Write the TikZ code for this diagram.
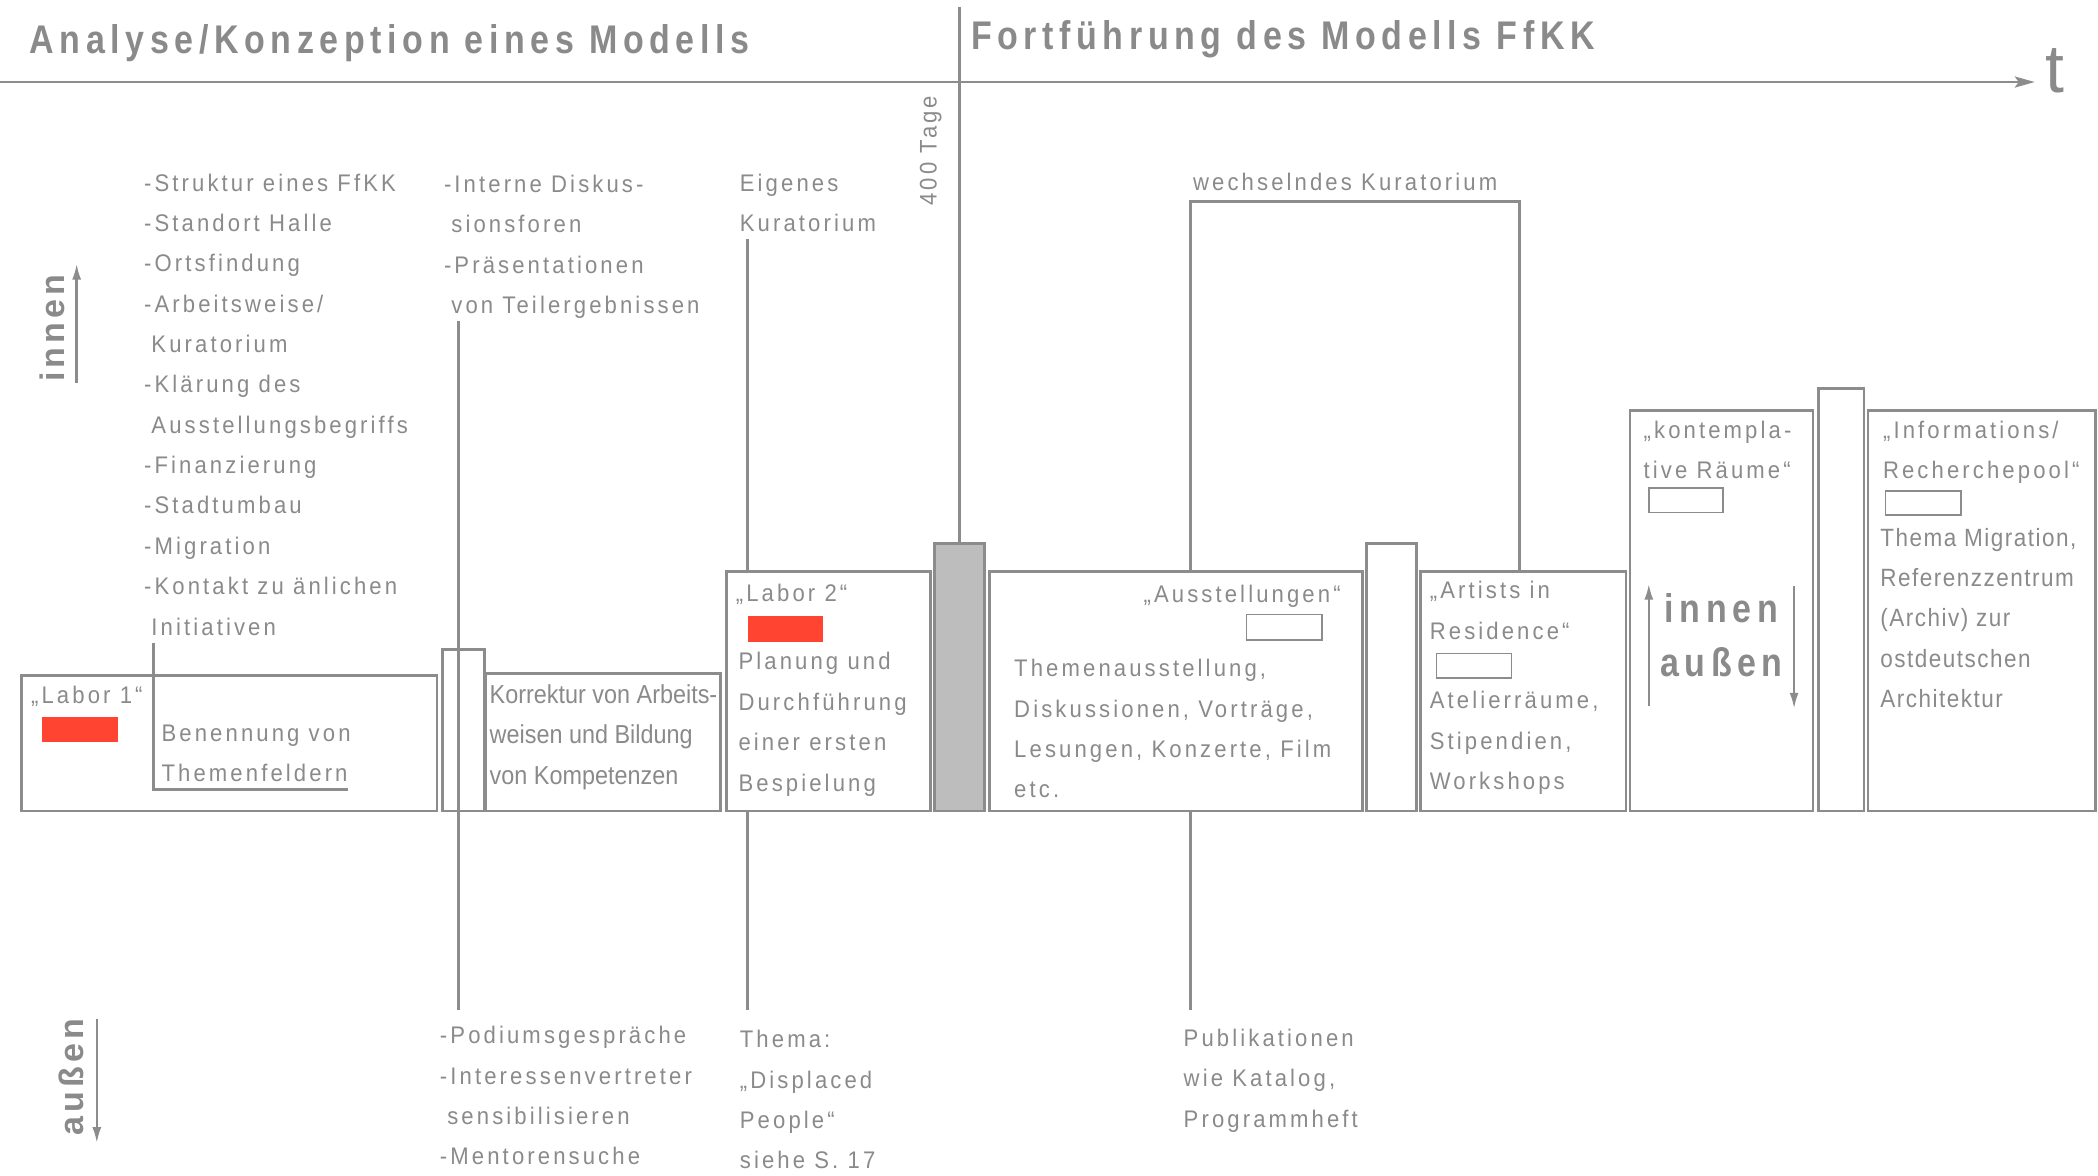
\documentclass[tikz,border=0pt]{standalone}
\usepackage{fontspec}
\setmainfont{Liberation Sans}
\usetikzlibrary{fit,arrows.meta}
\newfontfamily\bodyff[FakeStretch=0.92,LetterSpace=13]{Liberation Sans}
\newfontfamily\plainff[FakeStretch=0.9]{Liberation Sans}
\newfontfamily\midff[FakeStretch=0.9,LetterSpace=6]{Liberation Sans}
\newfontfamily\headff[FakeStretch=0.85,LetterSpace=14]{Liberation Sans}
\newfontfamily\sideff[LetterSpace=12]{Liberation Sans}
\definecolor{tgray}{HTML}{8A8A8A}
\definecolor{lgray}{HTML}{8C8C8C}
\definecolor{redfill}{HTML}{FF4431}
\definecolor{barfill}{HTML}{BDBDBD}
\begin{document}
\begin{tikzpicture}[x=1.3449pt,y=-1.3449pt,
  box/.style={draw=lgray,line width=2.8pt,inner sep=0pt},
  redbox/.style={fill=redfill,draw=none,inner sep=0pt},
  whitebox/.style={draw=lgray,line width=1.4pt,fill=white,inner sep=0pt},
  conn/.style={draw=lgray,line width=2.8pt},
  txt/.style={font=\bodyff\fontsize{24}{40.35}\selectfont,text=tgray,align=left,inner sep=0pt,anchor=north west},
  ptxt/.style={font=\plainff\fontsize{26}{40.35}\selectfont,text=tgray,align=left,inner sep=0pt,anchor=north west},
  mtxt/.style={font=\midff\fontsize{25}{40.35}\selectfont,text=tgray,align=left,inner sep=0pt,anchor=north west},
  lbl/.style={font=\bodyff\fontsize{24}{40.35}\selectfont,text=tgray,inner sep=0pt,anchor=base west},
  head/.style={font=\headff\bfseries\fontsize{40}{44}\selectfont,text=tgray,inner sep=0pt,anchor=base west},
  bigio/.style={font=\headff\bfseries\fontsize{40}{44}\selectfont,text=tgray,inner sep=0pt,anchor=base},
  side/.style={font=\sideff\bfseries\fontsize{34}{40}\selectfont,text=tgray,inner sep=0pt,rotate=90,anchor=center},
  arr/.style={draw=lgray,line width=2.4pt,-{Latex[length=16pt,width=9pt]}}
]
\useasboundingbox (0,0) rectangle (1560,873.7);

% headers and time axis
\node[head] (h1) at (22,40) {Analyse/Konzeption eines Modells};
\node[head] (h2) at (722,37) {Fortführung des Modells FfKK};
\coordinate (axL) at (0,61);
\coordinate (axR) at (1513,61);
\draw[conn,-{Stealth[length=20pt,width=11pt,inset=4pt]}] (axL) -- (axR);
\node[font=\fontsize{68}{68}\selectfont,text=tgray,inner sep=0pt,anchor=base west] (tlab) at (1521,69) {t};
\node[font=\bodyff\fontsize{24}{30}\selectfont,text=tgray,inner sep=0pt,rotate=90,anchor=center] (tage) at (692,112) {400 Tage};

% innen / aussen side labels
\node[side] (sideIn) at (39,244) {innen};
\coordinate (aInB) at (57,285);
\coordinate (aInT) at (57,196);
\draw[arr] (aInB) -- (aInT);
\node[side] (sideOut) at (53,801) {außen};
\coordinate (aOutT) at (72,758);
\coordinate (aOutB) at (72,850);
\draw[arr] (aOutT) -- (aOutB);

% boxes
\node[box,fit={(16,502)(325,603)}] (labor1) {};
\node[box,fit={(329,483)(360,603)}] (small) {};
\node[box,fit={(361,501)(536,603)}] (korr) {};
\node[box,fit={(540,425)(692,603)}] (labor2) {};
\node[box,fill=barfill,fit={(695,404)(732,603)}] (bar) {};
\node[box,fit={(736,425)(1013,603)}] (ausst) {};
\node[box,fit={(1016,404)(1053,603)}] (narrowA) {};
\node[box,fit={(1056,425)(1209,603)}] (artists) {};
\node[box,fit={(1212,305)(1348,603)}] (kontempl) {};
\node[box,fit={(1352,289)(1386,603)}] (narrowB) {};
\node[box,fit={(1389,305)(1558,603)}] (info) {};

% colour markers
\node[redbox,fit={(31,533)(88,552)}] (red1) {};
\node[redbox,fit={(556,458)(612,477)}] (red2) {};
\node[whitebox,fit={(927,457)(983,476)}] (wAus) {};
\node[whitebox,fit={(1068,486)(1124,504)}] (wArt) {};
\node[whitebox,fit={(1226,363)(1281,381)}] (wKon) {};
\node[whitebox,fit={(1402,365)(1458,383)}] (wInf) {};

% connectors
\coordinate (c1top) at (114,478);
\coordinate (c1end) at (259,587);
\draw[conn] (c1top) |- (c1end);
\coordinate (c2top) at (341,239);
\coordinate (c2bot) at (341,751);
\draw[conn] (c2top) -- (c2bot);
\coordinate (c3top) at (556,178);
\coordinate (c3bot) at (556,751);
\draw[conn] (c3top) -- (c3top |- labor2.north);
\draw[conn] (c3bot |- labor2.south) -- (c3bot);
\coordinate (sepTop) at (713.5,5);
\draw[conn] (sepTop) -- (bar.north);
\coordinate (kurL) at (885,150);
\coordinate (kurR) at (1130,150);
\draw[conn] (kurL |- ausst.north) -- (kurL) -- (kurR) -- (kurR |- artists.north);
\coordinate (c6bot) at (885,751);
\draw[conn] (c6bot |- ausst.south) -- (c6bot);

% texts top
\node[txt] (col1) at (107,121) {\strut-Struktur eines FfKK\\-Standort Halle\\-Ortsfindung\\-Arbeitsweise/\\\phantom{-}Kuratorium\\-Klärung des\\\phantom{-}Ausstellungsbegriffs\\-Finanzierung\\-Stadtumbau\\-Migration\\-Kontakt zu änlichen\\\phantom{-}Initiativen};
\node[txt] (col2) at (330,122) {\strut-Interne Diskus-\\\phantom{-}sionsforen\\-Präsentationen\\\phantom{-}von Teilergebnissen};
\node[txt] (eig) at (550,121) {\strut Eigenes\\Kuratorium};
\node[lbl] (wech) at (887,142) {wechselndes Kuratorium};

% texts in boxes
\node[lbl] (lab1) at (23,523) {„Labor 1“};
\node[txt] (ben) at (120,530) {\strut Benennung von\\Themenfeldern};
\node[ptxt] (korrT) at (364,502) {\strut Korrektur von Arbeits-\\weisen und Bildung\\von Kompetenzen};
\node[lbl] (lab2) at (547,447) {„Labor 2“};
\node[txt] (plan) at (549,477) {\strut Planung und\\Durchführung\\einer ersten\\Bespielung};
\node[lbl,anchor=base east] (ausL) at (997,448) {„Ausstellungen“};
\node[txt] (them) at (754,482) {\strut Themenausstellung,\\Diskussionen, Vorträge,\\Lesungen, Konzerte, Film\\etc.};
\node[txt] (artL) at (1063,424) {\strut„Artists in\\Residence“};
\node[txt] (atel) at (1063,506) {\strut Atelierräume,\\Stipendien,\\Workshops};
\node[txt] (kontL) at (1222,305) {\strut„kontempla-\\tive Räume“};
\node[bigio] (ioIn) at (1280,463) {innen};
\node[bigio] (ioOut) at (1280,503) {außen};
\coordinate (kUpB) at (1226,525);
\coordinate (kUpT) at (1226,434);
\draw[arr] (kUpB) -- (kUpT);
\coordinate (kDnT) at (1334,436);
\coordinate (kDnB) at (1334,527);
\draw[arr] (kDnT) -- (kDnB);
\node[txt] (infoL) at (1400,305) {\strut„Informations/\\Recherchepool“};
\node[mtxt] (mig) at (1398,385) {\strut Thema Migration,\\Referenzzentrum\\(Archiv) zur\\ostdeutschen\\Architektur};

% texts bottom
\node[txt] (pod) at (327,755) {\strut-Podiumsgespräche\\-Interessenvertreter\\\phantom{-}sensibilisieren\\-Mentorensuche};
\node[txt] (dis) at (550,758) {\strut Thema:\\„Displaced\\People“\\siehe S. 17};
\node[txt] (pub) at (880,757) {\strut Publikationen\\wie Katalog,\\Programmheft};
\end{tikzpicture}
\end{document}
